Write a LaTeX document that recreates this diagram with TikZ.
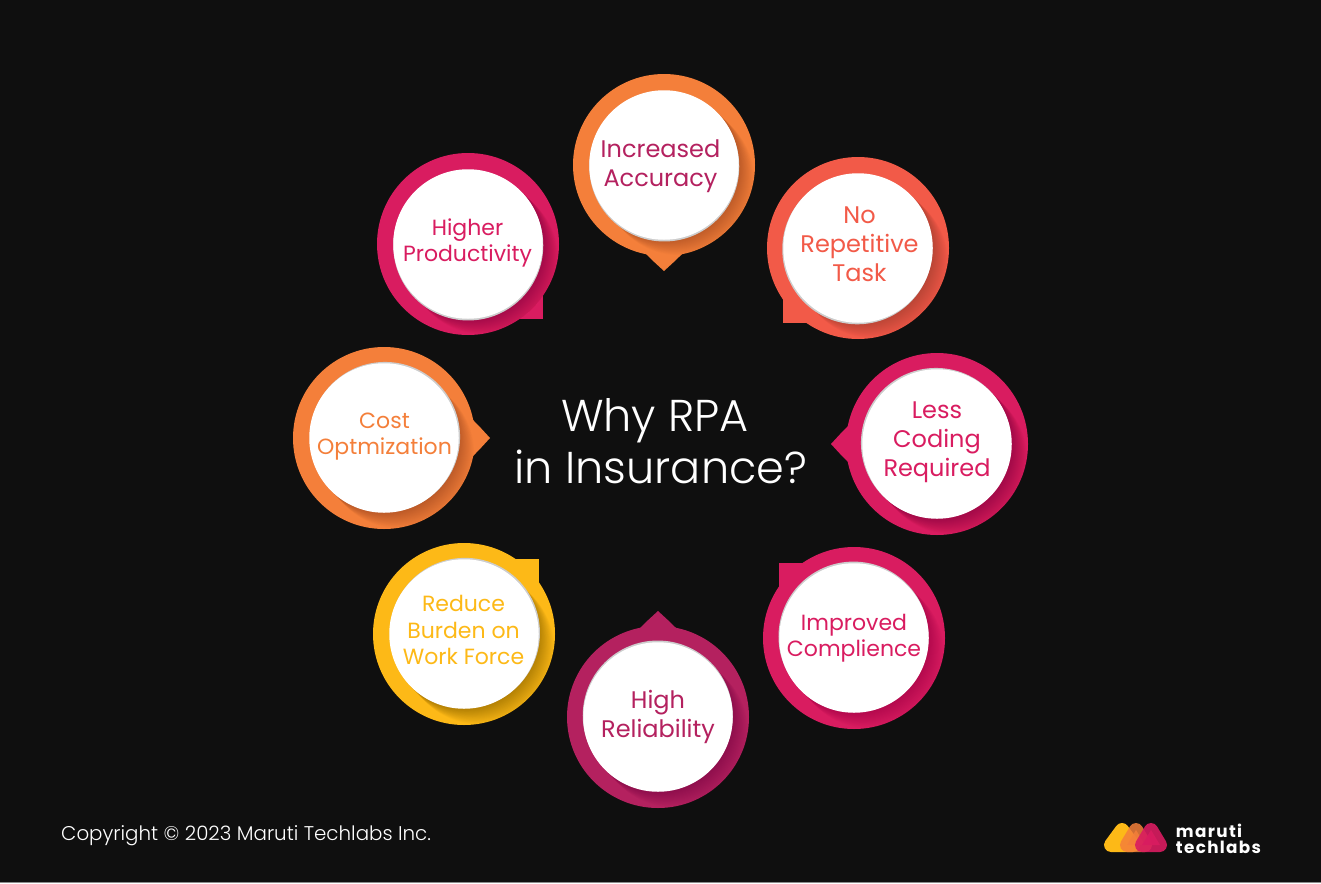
\documentclass[tikz,border=0pt]{standalone}
\usepackage{fontspec}
\setmainfont{Poppins}
\newfontfamily\lightfont{Poppins Light}
\newfontfamily\logofont[LetterSpace=8]{Poppins Bold}
\definecolor{bgdark}{HTML}{0F0F0F}
\definecolor{cOrange}{HTML}{F47F3A}
\definecolor{cCoral}{HTML}{F25A48}
\definecolor{cPink}{HTML}{D91C60}
\definecolor{cPlum}{HTML}{B4215F}
\definecolor{cYellow}{HTML}{FDB917}
\definecolor{cEdge}{HTML}{CDCDCD}
\tikzset{
  disc/.style={circle,fill=white,minimum size=149.5pt,inner sep=0pt,outer sep=0pt},
  big/.style={font=\fontsize{24}{29}\selectfont,align=center,inner sep=0pt},
  small/.style={font=\fontsize{22}{26.5}\selectfont,align=center,inner sep=0pt},
}
\newcommand{\tipper}[1]{\fill[ring,rotate=#1] (88,-19) .. controls (95,-12) .. (106,0) .. controls (95,12) .. (88,19) -- cycle;}
\newcommand{\cornerer}[2]{\fill[ring] (0,0) rectangle (#1*75,#2*75);}
\newcommand{\bubble}[7]{%
  \begin{scope}[shift={(#2,#3)}]
    \colorlet{ring}{#4}
    \fill[ring] (0,0) circle (91);
    #6
    \begin{scope}
      \clip (0,0) circle (91);
      \foreach \i in {1,...,18}{\fill[black,opacity=#7] (\i*0.85,\i*0.85) circle (75);}
    \end{scope}
    \fill[cEdge] (#5:1.5) circle (75);
    \node[disc] (#1) at (0,0) {};
  \end{scope}}
\begin{document}
\begin{tikzpicture}[x=1pt,y=-1pt]
\useasboundingbox (0,0) rectangle (1321,883);
\fill[bgdark] (0,0) rectangle (1321,883);
\fill[gray!90] (0,881.6) rectangle (1321,883);

\bubble{accuracy}{664}{165}{cOrange}{80}{\tipper{-90}}{0.011}
\bubble{repetitive}{858}{248}{cCoral}{120}{\cornerer{-1}{1}}{0.011}
\bubble{coding}{937}{444}{cPink}{225}{\tipper{180}}{0.01}
\bubble{compliance}{854}{638}{cPink}{-110}{\cornerer{-1}{-1}}{0.009}
\bubble{reliability}{658}{717}{cPlum}{-100}{\tipper{90}}{0.006}
\bubble{burden}{464}{634}{cYellow}{-50}{\cornerer{1}{-1}}{0.016}
\bubble{cost}{384}{438}{cOrange}{-45}{\tipper{0}}{0.012}
\bubble{productivity}{468}{244}{cPink}{80}{\cornerer{1}{1}}{0.012}

\node[big,text=cPlum] (t1) at (660.5,166) {Increased\\Accuracy};
\node[big,text=cCoral] (t2) at (859.5,244.5) {No\\Repetitive\\Task};
\node[big,text=cPink] (t3) at (937,442) {Less\\Coding\\Required};
\node[small,text=cPink] (t4) at (854,638) {Improved\\Complience};
\node[big,text=cPlum] (t5) at (658,717) {High\\Reliability};
\node[small,text=cYellow] (t6) at (463.5,630) {Reduce\\Burden on\\Work Force};
\node[small,text=cOrange] (t7) at (384.5,436.5) {Cost\\Optmization};
\node[small,text=cPink] (t8) at (467.5,243) {Higher\\Productivity};

\node[font=\lightfont\fontsize{44.6}{52}\selectfont,text=white,align=center,inner sep=0pt] (title) at (661,441) {Why RPA\hspace*{12pt}\\in Insurance?};

\node[font=\lightfont\fontsize{19.85}{24}\selectfont,text=white,anchor=base west,inner sep=0pt] (copy) at (61,840) {Copyright © 2023 Maruti Techlabs Inc.};

\begin{scope}[line join=round,line width=14pt]
\filldraw[cYellow] (1111,845) -- (1122,830) -- (1133,845) -- cycle;
\filldraw[cOrange,opacity=.85] (1127,845) -- (1136,830) -- (1145,845) -- cycle;
\filldraw[cPink,opacity=.9] (1142,845) -- (1151,830) -- (1160,845) -- cycle;
\end{scope}
\node[font=\logofont\fontsize{16.8}{16}\selectfont,text=white,align=left,inner sep=0pt] (logo) at (1218.5,838.5) {maruti\\techlabs};
\end{tikzpicture}
\end{document}
